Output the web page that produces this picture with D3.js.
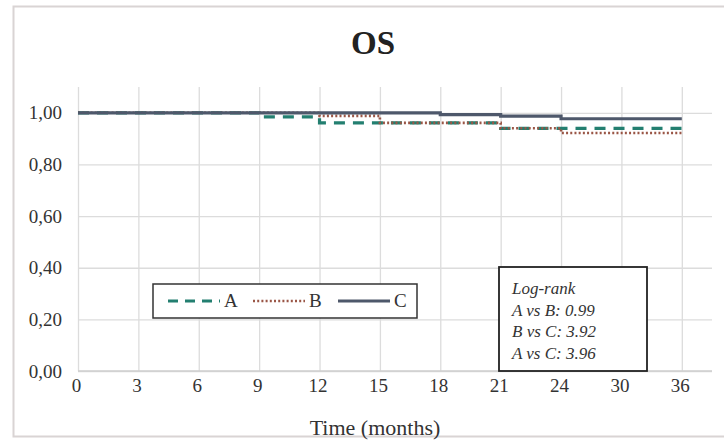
<!DOCTYPE html>
<html>
<head>
<meta charset="utf-8">
<script src="https://cdn.jsdelivr.net/npm/d3@7"></script>
<style>
  body { margin: 0; background: #fff; }
  svg { display: block; font-family: 'Liberation Serif', 'Times New Roman', serif; }
</style>
</head>
<body>
<svg id="chart" width="724" height="443"></svg>
<script>
// x categories (months), equally spaced like the original
const xMonths = [0, 3, 6, 9, 12, 15, 18, 21, 24, 30, 36];
const yTicks = [0, 0.2, 0.4, 0.6, 0.8, 1.0];

// survival step values
const timesA = [0, 9, 12, 21, 36];
const survA = [1.00, 0.984, 0.961, 0.940, 0.940];
const timesB = [0, 12, 15, 21, 24, 36];
const survB = [1.00, 0.988, 0.961, 0.940, 0.922, 0.922];
const timesC = [0, 18, 21, 24, 36];
const survC = [1.00, 0.993, 0.987, 0.977, 0.977];

const seriesNames = ['A', 'B', 'C'];
const logRank = ['Log-rank', 'A vs B: 0.99', 'B vs C: 3.92', 'A vs C: 3.96'];

const width = 724, height = 443;
const margin = { top: 87, right: 12, bottom: 72, left: 78 };
const innerWidth = width - margin.left - margin.right;
const innerHeight = height - margin.top - margin.bottom;

const svg = d3.select('#chart');

// outer chart border (right edge falls outside the crop)
svg.append('path')
  .attr('d', 'M724,6.5 H13.5 V436.5 H724')
  .attr('fill', 'none')
  .attr('stroke', '#d9d4d4')
  .attr('stroke-width', 2);

svg.append('text')
  .attr('x', 373).attr('y', 54)
  .attr('text-anchor', 'middle')
  .attr('font-size', 33)
  .attr('font-weight', 'bold')
  .attr('fill', '#222')
  .text('OS');

const g = svg.append('g')
  .attr('transform', `translate(${margin.left},${margin.top})`);

const xScale = d3.scaleLinear()
  .domain([0, xMonths.length - 0.5])
  .range([0, innerWidth]);
const xPos = m => xScale(xMonths.indexOf(m));

const yScale = d3.scaleLinear()
  .domain([0, 1.1])
  .range([innerHeight, 0]);

// horizontal gridlines + y labels
g.append('g')
  .attr('class', 'y-axis')
  .call(d3.axisLeft(yScale)
    .tickValues(yTicks)
    .tickSize(-innerWidth)
    .tickPadding(16)
    .tickFormat(d => d3.format('.2f')(d).replace('.', ',')))
  .call(a => a.select('.domain').remove())
  .call(a => a.selectAll('.tick line').attr('stroke', '#dcdcdc').attr('stroke-width', 1.3))
  .call(a => a.selectAll('.tick text')
    .attr('font-size', 19)
    .attr('font-family', "'Liberation Serif', serif")
    .attr('fill', '#333'));

// vertical gridlines + x labels
g.append('g')
  .attr('class', 'x-axis')
  .attr('transform', `translate(0,${innerHeight})`)
  .call(d3.axisBottom(xScale)
    .tickValues(d3.range(xMonths.length))
    .tickSize(-innerHeight)
    .tickPadding(8)
    .tickFormat(i => xMonths[i]))
  .call(a => a.select('.domain').remove())
  .call(a => a.selectAll('.tick line').attr('stroke', '#dcdcdc').attr('stroke-width', 1.3))
  .call(a => a.selectAll('.tick text')
    .attr('font-size', 19)
    .attr('font-family', "'Liberation Serif', serif")
    .attr('fill', '#333')
    .attr('dx', -2));

// bottom axis line
g.append('line')
  .attr('x1', 0).attr('x2', innerWidth)
  .attr('y1', innerHeight).attr('y2', innerHeight)
  .attr('stroke', '#cfcfcf').attr('stroke-width', 1.5);

svg.append('text')
  .attr('x', 375).attr('y', 435)
  .attr('text-anchor', 'middle')
  .attr('font-size', 22)
  .attr('fill', '#333')
  .text('Time (months)');

const styles = {
  A: { color: '#237f70', width: 3.2, dash: '11,8' },
  B: { color: '#9a5646', width: 2.6, dash: '2,2.2' },
  C: { color: '#4e586b', width: 3.2, dash: null },
};

const series = [
  { name: 'A', times: timesA, surv: survA },
  { name: 'B', times: timesB, surv: survB },
  { name: 'C', times: timesC, surv: survC },
];

const line = d3.line()
  .x(d => xPos(d[0]))
  .y(d => yScale(d[1]))
  .curve(d3.curveStepAfter);

g.append('g')
  .attr('class', 'lines')
  .selectAll('path')
  .data(series)
  .join('path')
  .attr('d', s => line(s.times.map((t, i) => [t, s.surv[i]])))
  .attr('fill', 'none')
  .attr('stroke', s => styles[s.name].color)
  .attr('stroke-width', s => styles[s.name].width)
  .attr('stroke-dasharray', s => styles[s.name].dash);

// legend box
const legend = svg.append('g').attr('transform', 'translate(153,284)');
legend.append('rect')
  .attr('width', 264).attr('height', 34)
  .attr('fill', '#fff')
  .attr('stroke', '#333').attr('stroke-width', 1.5);
seriesNames.forEach((name, i) => {
  const x0 = 15 + i * 85;
  legend.append('line')
    .attr('x1', x0).attr('x2', x0 + 52)
    .attr('y1', 17).attr('y2', 17)
    .attr('stroke', styles[name].color)
    .attr('stroke-width', styles[name].width)
    .attr('stroke-dasharray', name === 'A' ? '10,7' : styles[name].dash);
  legend.append('text')
    .attr('x', x0 + 56).attr('y', 23)
    .attr('font-size', 19)
    .attr('fill', '#333')
    .text(name);
});

// log-rank box
const lr = svg.append('g').attr('transform', 'translate(499,267)');
lr.append('rect')
  .attr('width', 148).attr('height', 104)
  .attr('fill', '#fff')
  .attr('stroke', '#222').attr('stroke-width', 1.8);
lr.selectAll('text')
  .data(logRank)
  .join('text')
  .attr('x', 13)
  .attr('y', (d, i) => 27 + i * 21.5)
  .attr('font-size', 17)
  .attr('font-style', 'italic')
  .attr('fill', '#333')
  .text(d => d);
</script>
</body>
</html>
